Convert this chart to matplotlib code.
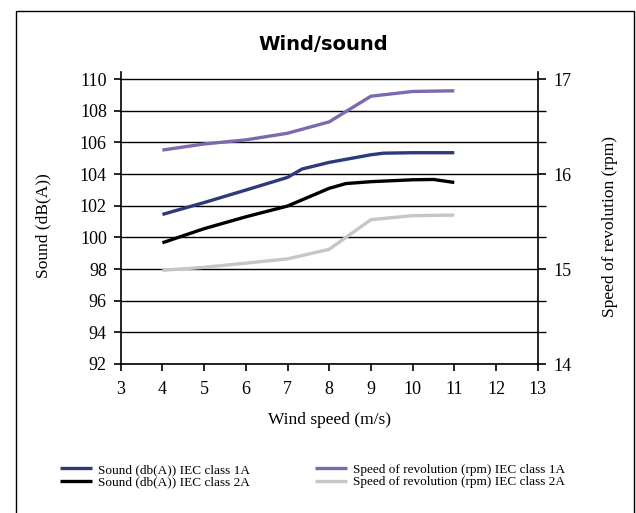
import numpy as np
import matplotlib
matplotlib.use('Agg')
import matplotlib.pyplot as plt
from matplotlib.patches import Rectangle
from matplotlib.ticker import FixedLocator

# values
sound_1a_x = [4, 5, 6, 7, 7.35, 8, 9, 9.3, 10, 11]
sound_1a = [101.45, 102.2, 102.99, 103.79, 104.32, 104.74, 105.22, 105.32, 105.35, 105.35]

sound_2a_x = [4, 5, 6, 7, 8, 8.4, 9, 10, 10.5, 11]
sound_2a = [99.66, 100.55, 101.3, 101.98, 103.1, 103.4, 103.52, 103.64, 103.66, 103.47]

rpm_x = [4, 5, 6, 7, 8, 9, 10, 11]
rpm_1a = [16.253, 16.317, 16.36, 16.43, 16.55, 16.82, 16.87, 16.877]
rpm_2a = [14.987, 15.018, 15.062, 15.107, 15.208, 15.52, 15.562, 15.568]

labels = ['Sound (db(A)) IEC class 1A', 'Sound (db(A)) IEC class 2A',
          'Speed of revolution (rpm) IEC class 1A', 'Speed of revolution (rpm) IEC class 2A']
colors = ['#2c3a7b', '#000000', '#7d69ad', '#c6c6c6']

plt.rcParams['font.family'] = ['Liberation Serif', 'DejaVu Serif']

fig = plt.figure(figsize=(6.36, 5.13), dpi=100)
W, H = 636, 513

# outer frame
fig.patches.append(Rectangle((16 / W, -0.02), (634 - 16) / W, 1 - 11 / H + 0.02,
                             transform=fig.transFigure, fill=False, edgecolor='black',
                             linewidth=1.0, clip_on=False))

ax = fig.add_axes([120.7 / W, 1 - 364 / H, (537.7 - 120.7) / W, (364 - 72) / H])
ax2 = ax.twinx()

l1, = ax.plot(sound_1a_x, sound_1a, color=colors[0], lw=2.4, solid_capstyle='butt', zorder=3)
l2, = ax.plot(sound_2a_x, sound_2a, color=colors[1], lw=2.4, solid_capstyle='butt', zorder=3)
l3, = ax2.plot(rpm_x, rpm_1a, color=colors[2], lw=2.4, solid_capstyle='butt')
l4, = ax2.plot(rpm_x, rpm_2a, color=colors[3], lw=2.4, solid_capstyle='butt')

top = 110.45
ax.set_xlim(3, 13)
ax.set_ylim(92, top)
ax2.set_ylim(14, 14 + (top - 92) / 6)

ax.set_xticks(range(3, 14))
ax.set_yticks(range(92, 111, 2))
ax2.set_yticks([14, 15, 16, 17])
ax2.yaxis.set_minor_locator(FixedLocator(np.arange(14, 17.01, 1 / 3)))

ax.grid(axis='y', color='black', linewidth=1.0)
ax.set_axisbelow(True)

for a in (ax, ax2):
    a.spines['top'].set_visible(False)
    for s in ('left', 'right', 'bottom'):
        a.spines[s].set_linewidth(1.2)
ax.spines['right'].set_visible(False)
ax2.spines['left'].set_visible(False)
ax2.spines['bottom'].set_visible(False)

ax.tick_params(axis='x', direction='out', length=5, width=1.2, pad=7, labelsize=13)
ax.tick_params(axis='y', direction='out', length=5, width=1.2, pad=5, labelsize=13)
ax2.tick_params(axis='y', which='major', direction='out', length=6, width=1.2, pad=5, labelsize=13)
ax2.tick_params(axis='y', which='minor', direction='out', length=6, width=1.0)

ax.set_xlabel('Wind speed (m/s)', fontsize=12.5, va='top')
ax.xaxis.set_label_coords(0.5, -0.164)
ax.set_ylabel('Sound (dB(A))', fontsize=12.5, va='center')
ax.yaxis.set_label_coords(-0.186, 0.474)
ax2.set_ylabel('Speed of revolution (rpm)', fontsize=12.5, rotation=90, va='center')
ax2.yaxis.set_label_coords(1.173, 0.47)

fig.text(323 / W, 1 - 45 / H, 'Wind/sound', ha='center', va='center',
         fontsize=14, fontweight='bold', family='DejaVu Sans')

fig.legend([l1, l2, l3, l4], labels, ncol=2, loc='center left',
           bbox_to_anchor=(60 / W, 1 - 476 / H), frameon=False, fontsize=9.5,
           handlelength=2.4, handletextpad=0.5, columnspacing=4.9, labelspacing=0.0,
           borderpad=0, borderaxespad=0)

fig.savefig('out.png', dpi=100)
